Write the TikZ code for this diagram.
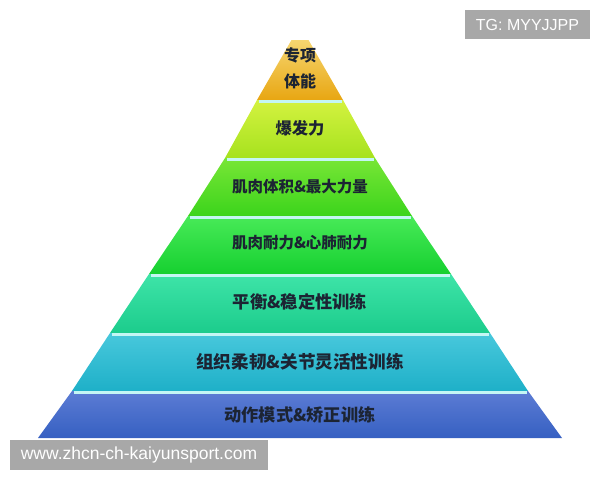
\documentclass[tikz,border=0pt]{standalone}
\usepackage{fontspec}
\setmainfont{Liberation Sans}
\newfontfamily\cjk{Noto Sans CJK SC}

\definecolor{goldT}{HTML}{F6D670}
\definecolor{goldB}{HTML}{E8A612}
\definecolor{limeT}{HTML}{D4F240}
\definecolor{limeB}{HTML}{A6E21E}
\definecolor{leafT}{HTML}{78E636}
\definecolor{leafB}{HTML}{3CD41C}
\definecolor{grassT}{HTML}{48EA58}
\definecolor{grassB}{HTML}{16D030}
\definecolor{mintT}{HTML}{3EE4A8}
\definecolor{mintB}{HTML}{1CCC8C}
\definecolor{aquaT}{HTML}{48C8DC}
\definecolor{aquaB}{HTML}{1EB0C8}
\definecolor{navyT}{HTML}{5C7CD4}
\definecolor{navyB}{HTML}{3660C2}
\definecolor{shine}{HTML}{C4F6F4}
\definecolor{ink}{HTML}{1C2433}
\definecolor{wmgray}{HTML}{A8A8A8}

\begin{document}
\begin{tikzpicture}[x=1pt,y=-1pt,
        tierlabel/.style={text=ink, inner sep=0pt, align=center},
        wmbox/.style={fill=wmgray, text=white, inner sep=0pt}]

            \useasboundingbox (0,0) rectangle (600,480);

            % tiers, from the top down
            \foreach \yt/\wt/\yb/\wb/\ct/\cb [count=\i] in
                {40/8.5/100/43/goldT/goldB,
                 100/43/158/75/limeT/limeB,
                 158/75/216/112/leafT/leafB,
                 216/112/274/151/grassT/grassB,
                 274/151/333/190/mintT/mintB,
                 333/190/391/228/aquaT/aquaB,
                 391/228/438/262/navyT/navyB}
            {
                \shade[top color=\ct, bottom color=\cb]
                (300-\wt,\yt) -- (300+\wt,\yt)
                -- (300+\wb,\yb) -- (300-\wb,\yb) -- cycle;
                \ifnum\i>1
                    \draw[shine, line width=2.5pt]
                    (300-\wt+1.5,\yt+1.5) -- (300+\wt-1.5,\yt+1.5);
                \fi
            }

            \node[tierlabel, font=\cjk\bfseries\fontsize{16}{26}\selectfont]
            (apex) at (300,68) {专项\\体能};
            \node[tierlabel, font=\cjk\bfseries\fontsize{16.3}{20}\selectfont]
            (explosive) at (300,128) {爆发力};
            \node[tierlabel, font=\cjk\bfseries\fontsize{15.5}{20}\selectfont]
            (hypertrophy) at (300,187) {肌肉体积\&最大力量};
            \node[tierlabel, font=\cjk\bfseries\fontsize{15.5}{20}\selectfont]
            (endurance) at (300,243) {肌肉耐力\&心肺耐力};
            \node[tierlabel, font=\cjk\bfseries\fontsize{17.3}{20}\selectfont]
            (balance) at (300,302) {平衡\&稳定性训练};
            \node[tierlabel, font=\cjk\bfseries\fontsize{17.6}{22}\selectfont]
            (mobility) at (300,362) {组织柔韧\&关节灵活性训练};
            \node[tierlabel, font=\cjk\bfseries\fontsize{17.2}{20}\selectfont]
            (pattern) at (300,415) {动作模式\&矫正训练};

            % watermarks
            \node[wmbox, minimum width=125, minimum height=29,
                  font=\fontsize{16}{18}\selectfont]
            (tg) at (527.5,24.5) {TG: MYYJJPP};
            \node[wmbox, minimum width=258, minimum height=30,
                  font=\fontsize{17.5}{20}\selectfont]
            (site) at (139,455) {www.zhcn-ch-kaiyunsport.com};

        \end{tikzpicture}
\end{document}
